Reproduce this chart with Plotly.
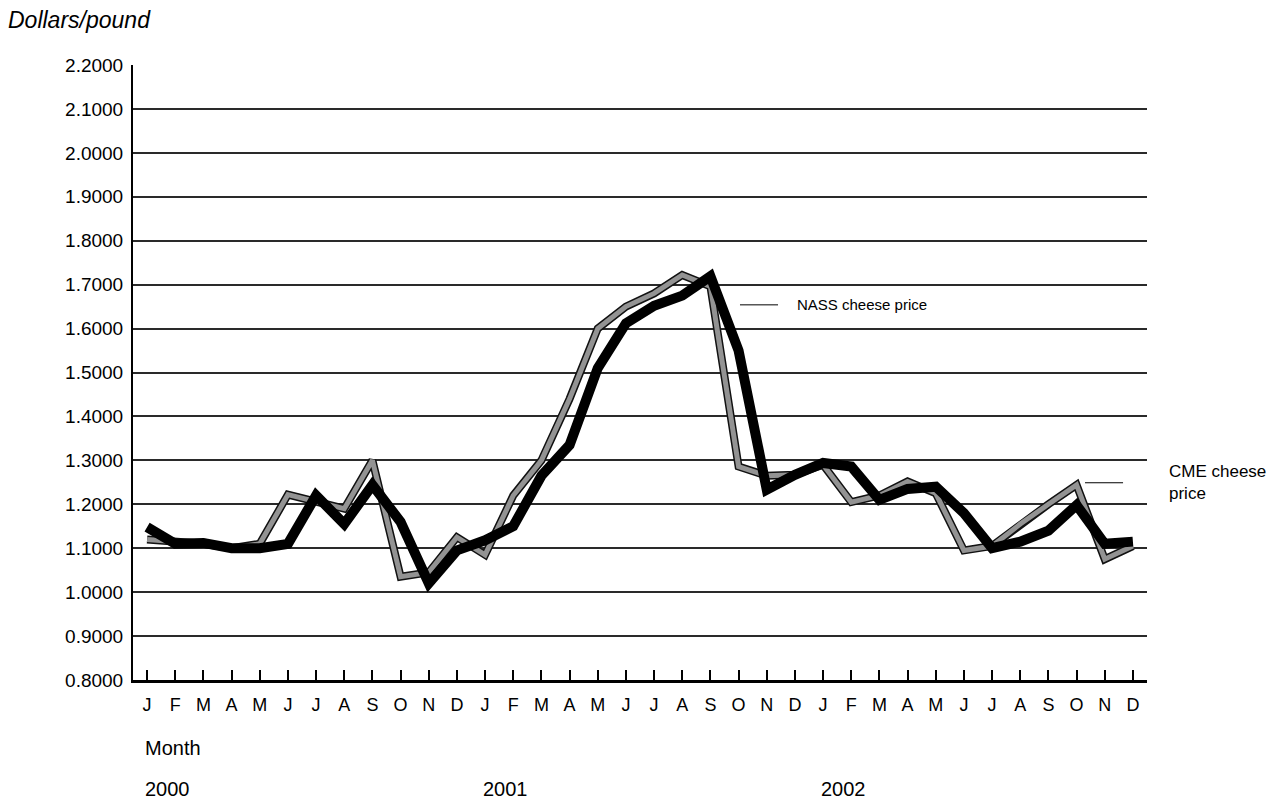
# NASS vs CME cheese prices, monthly 2000-2002
import plotly.graph_objects as go

FONT = "Liberation Sans, Arial, sans-serif"

# month labels and year labels
months = ["J", "F", "M", "A", "M", "J", "J", "A", "S", "O", "N", "D"] * 3
years = ["2000", "2001", "2002"]

# dollars/pound
nass_price = [
    1.148, 1.110, 1.112, 1.100, 1.100, 1.110, 1.220, 1.155, 1.244, 1.160, 1.020, 1.095,
    1.118, 1.150, 1.265, 1.335, 1.510, 1.612, 1.652, 1.675, 1.719, 1.550, 1.233, 1.267,
    1.294, 1.286, 1.210, 1.235, 1.240, 1.180, 1.100, 1.115, 1.140, 1.198, 1.110, 1.115,
]
cme_price = [
    1.120, 1.115, 1.110, 1.100, 1.110, 1.222, 1.205, 1.190, 1.300, 1.035, 1.045, 1.125,
    1.085, 1.220, 1.300, 1.440, 1.600, 1.650, 1.680, 1.722, 1.696, 1.286, 1.265, 1.267,
    1.290, 1.205, 1.220, 1.252, 1.225, 1.095, 1.105, 1.155, 1.200, 1.244, 1.075, 1.105,
]

y_ticks = [round(0.8 + 0.1 * i, 1) for i in range(15)]
x = list(range(len(months)))

fig = go.Figure()

# CME: gray line with a dark outline
fig.add_trace(go.Scatter(x=x, y=cme_price, mode="lines",
                         line=dict(color="#111111", width=8),
                         hoverinfo="skip", showlegend=False))
fig.add_trace(go.Scatter(x=x, y=cme_price, mode="lines", name="CME cheese price",
                         line=dict(color="#939393", width=5), showlegend=False))
# NASS: heavy black line on top
fig.add_trace(go.Scatter(x=x, y=nass_price, mode="lines", name="NASS cheese price",
                         line=dict(color="#000000", width=10), showlegend=False))

# legend-style labels next to the lines
fig.add_shape(type="line", x0=21.05, x1=22.4, y0=1.654, y1=1.654,
              line=dict(color="black", width=1))
fig.add_annotation(x=23.0, y=1.654, text="NASS cheese price", showarrow=False,
                   xanchor="left", yanchor="middle",
                   font=dict(family=FONT, size=15, color="black"))
fig.add_shape(type="line", x0=33.3, x1=34.65, y0=1.249, y1=1.249,
              line=dict(color="black", width=1))
fig.add_annotation(x=1.0, xref="paper", xshift=20, y=1.249, text="CME cheese<br>price",
                   showarrow=False, xanchor="left", yanchor="middle", align="left",
                   font=dict(family=FONT, size=17, color="black"))

# axis titles / year labels
fig.add_annotation(x=0, y=1.0, xref="paper", yref="paper", xshift=-127, yshift=45,
                   text="<i>Dollars/pound</i>", showarrow=False,
                   xanchor="left", yanchor="middle",
                   font=dict(family=FONT, size=23, color="black"))
fig.add_annotation(x=0, y=0, yref="paper", yshift=-68, text="Month", showarrow=False,
                   xanchor="left", yanchor="middle", xshift=-4,
                   font=dict(family=FONT, size=20, color="black"))
for i, yr in enumerate(years):
    fig.add_annotation(x=12 * i, y=0, yref="paper", yshift=-109, text=yr,
                       showarrow=False, xanchor="left", yanchor="middle", xshift=-4,
                       font=dict(family=FONT, size=20, color="black"))

fig.update_xaxes(range=[-0.5, 35.5], tickmode="array", tickvals=x, ticktext=months,
                 ticks="inside", ticklen=10, tickwidth=1.5, tickcolor="black",
                 showgrid=False, showline=True, linecolor="black", linewidth=3,
                 zeroline=False, ticklabelstandoff=6,
                 tickfont=dict(family=FONT, size=18, color="black"))
fig.update_yaxes(range=[0.8, 2.2], tickmode="array", tickvals=y_ticks,
                 tickformat=".4f", showgrid=True, gridcolor="#2a2a2a", gridwidth=2,
                 showline=True, linecolor="black", linewidth=2, zeroline=False,
                 ticks="", ticklabelstandoff=4,
                 tickfont=dict(family=FONT, size=19, color="black"))

# page body adds an 8px margin, so the figure is 8px smaller than the window
fig.update_layout(width=1269, height=795, plot_bgcolor="white", paper_bgcolor="white",
                  margin=dict(l=125, r=130, t=57, b=123), showlegend=False)

fig.write_html("out.html")
